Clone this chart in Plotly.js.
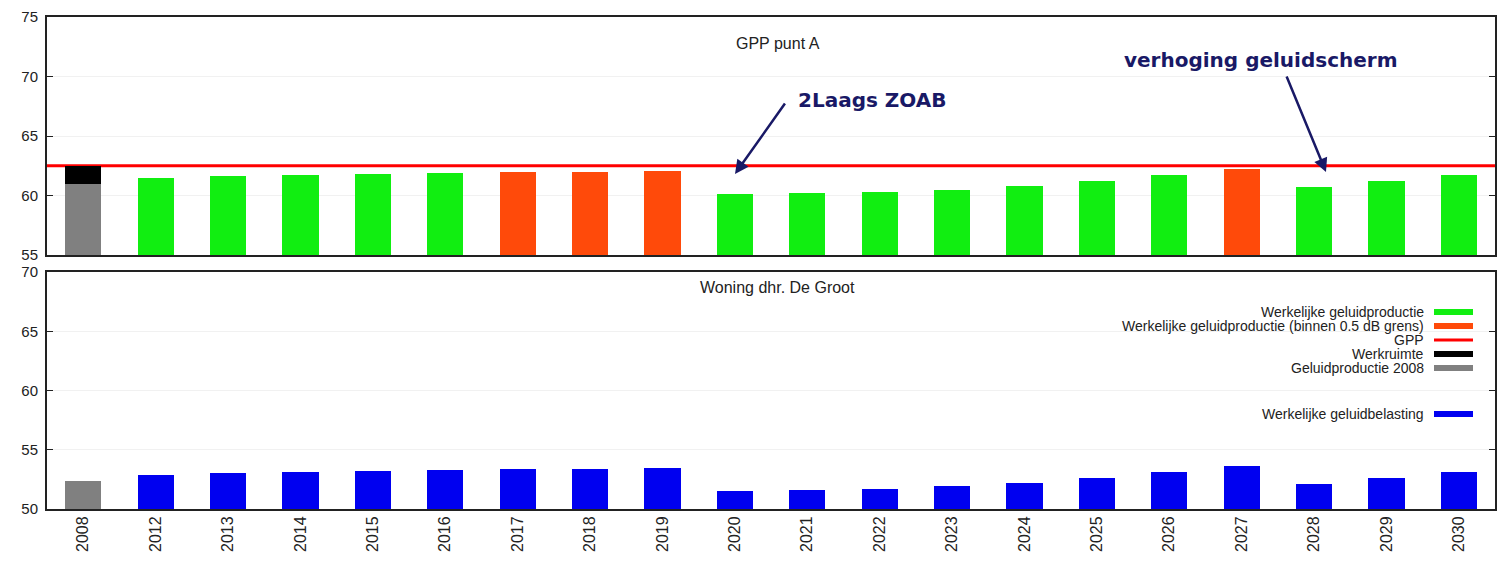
<!DOCTYPE html>
<html>
<head>
<meta charset="utf-8">
<script src="https://cdn.plot.ly/plotly-3.0.1.min.js"></script>
<style>html,body{margin:0;padding:0;background:#fff;}#chart{width:1509px;height:572px;}</style>
</head>
<body>
<div id="chart"></div>
<script>
// ---- data ----
const years = ['2008','2012','2013','2014','2015','2016','2017','2018','2019','2020','2021','2022','2023','2024','2025','2026','2027','2028','2029','2030'];
const futureYears = years.slice(1);
const gpp = 62.5;
const productie2008 = 61.0;
const werkruimte2008 = 1.5;
const productie = [61.5,61.6,61.7,61.8,61.9,62.0,62.0,62.1,60.1,60.2,60.3,60.5,60.8,61.2,61.7,62.2,60.7,61.2,61.7];
const belasting2008 = 52.4;
const belasting = [52.9,53.0,53.1,53.2,53.3,53.4,53.4,53.5,51.5,51.6,51.7,51.9,52.2,52.6,53.1,53.6,52.1,52.6,53.1];
const legendLabels = ['Werkelijke geluidproductie','Werkelijke geluidproductie (binnen 0.5 dB grens)','GPP','Werkruimte','Geluidproductie 2008','Werkelijke geluidbelasting'];
const titleTop = 'GPP punt A';
const titleBottom = 'Woning dhr. De Groot';
const note1 = '2Laags ZOAB';
const note2 = 'verhoging geluidscherm';

// ---- styles ----
const GREEN = '#11ee11', ORANGE = '#ff4a0a', RED = '#ff0000', BLACK = '#000000', GRAY = '#808080', BLUE = '#0000f0', NAVY = '#191966';
const prodColors = productie.map(v => (gpp - v) <= 0.5 + 1e-9 ? ORANGE : GREEN);

const L = 47, R = 1495, T = 17, B = 509, W = 1509, H = 572;
const px = x => (x - L) / (R - L);
const py = y => (B - y) / (B - T);

const traces = [
  {type:'bar', x:['2008'], y:[productie2008], xaxis:'x2', yaxis:'y2', marker:{color:GRAY}, width:0.5},
  {type:'bar', x:['2008'], y:[werkruimte2008], xaxis:'x2', yaxis:'y2', marker:{color:BLACK}, width:0.5},
  {type:'bar', x:futureYears, y:productie, xaxis:'x2', yaxis:'y2', marker:{color:prodColors}, width:0.5},
  {type:'bar', x:['2008'], y:[belasting2008], xaxis:'x', yaxis:'y', marker:{color:GRAY}, width:0.5},
  {type:'bar', x:futureYears, y:belasting, xaxis:'x', yaxis:'y', marker:{color:BLUE}, width:0.5}
];

const axisFont = {family:'Liberation Sans, Arial, sans-serif', size:15, color:'#222'};
const yBase = {
  dtick:5, ticks:'inside', ticklen:6, tickcolor:'#222', tickwidth:1,
  showline:true, linecolor:'#222', linewidth:2, mirror:'allticks',
  showgrid:true, gridcolor:'#f1f1f1', gridwidth:1, zeroline:false,
  tickfont:axisFont, ticklabelstandoff:4, fixedrange:true
};
const xBase = {
  type:'category', categoryorder:'array', categoryarray:years, range:[-0.5, years.length-0.5],
  showline:true, linecolor:'#222', linewidth:2, mirror:true, ticks:'', showgrid:false, zeroline:false, fixedrange:true
};

const txt = (x, y, text, font, extra) => Object.assign({xref:'paper', yref:'paper', x:px(x), y:py(y), text:text, showarrow:false,
  xanchor:'center', yanchor:'middle', font:font}, extra || {});
const plainFont = s => ({family:'Liberation Sans, Arial, sans-serif', size:s, color:'#222'});
const boldFont = {family:'DejaVu Sans, Verdana, sans-serif', size:20, color:NAVY};

const annotations = [
  txt(778, 43, titleTop, plainFont(16)),
  txt(778, 287, titleBottom, plainFont(16)),
  txt(872, 100, '<b>'+note1+'</b>', boldFont),
  txt(1261, 60, '<b>'+note2+'</b>', boldFont),
  {xref:'paper', yref:'paper', x:px(735), y:py(174), text:'', showarrow:true, ax:51, ay:-72, arrowcolor:NAVY, arrowwidth:2.5, arrowhead:2, arrowsize:1.1, standoff:0, startstandoff:0},
  {xref:'paper', yref:'paper', x:px(1326), y:py(172), text:'', showarrow:true, ax:-40, ay:-97, arrowcolor:NAVY, arrowwidth:2.5, arrowhead:2, arrowsize:1.1, standoff:0, startstandoff:0}
];

const shapes = [
  {type:'line', xref:'x2 domain', yref:'y2', x0:0, x1:1, y0:gpp, y1:gpp, line:{color:RED, width:3}, layer:'below'}
];

// manual legend (text right-aligned, swatch on the right)
const legRows = [312, 326, 340, 354, 368, 414];
const legColors = [GREEN, ORANGE, RED, BLACK, GRAY, BLUE];
const legThick = [6, 6, 3, 6, 6, 6];
legendLabels.forEach((lab, i) => {
  annotations.push(txt(1426, legRows[i], lab, plainFont(14), {xanchor:'right'}));
  shapes.push({type:'rect', xref:'paper', yref:'paper', x0:px(1434), x1:px(1473), y0:py(legRows[i]+legThick[i]/2), y1:py(legRows[i]-legThick[i]/2),
    fillcolor:legColors[i], line:{width:0}});
});

const layout = {
  width:W, height:H, margin:{l:L, r:W-R, t:T, b:H-B},
  paper_bgcolor:'#fff', plot_bgcolor:'#fff',
  showlegend:false, barmode:'stack', bargap:0.5,
  xaxis:Object.assign({}, xBase, {anchor:'y', tickangle:-90, ticklabelstandoff:-1, tickfont:{family:'Liberation Sans, Arial, sans-serif', size:16, color:'#222'}, showticklabels:true}),
  xaxis2:Object.assign({}, xBase, {anchor:'y2', matches:'x', showticklabels:false}),
  yaxis:Object.assign({}, yBase, {domain:[0, py(272)], range:[50, 70]}),
  yaxis2:Object.assign({}, yBase, {domain:[py(255), 1], range:[55, 75]}),
  annotations:annotations, shapes:shapes
};

Plotly.newPlot('chart', traces, layout, {displayModeBar:false, staticPlot:true});
</script>
</body>
</html>
